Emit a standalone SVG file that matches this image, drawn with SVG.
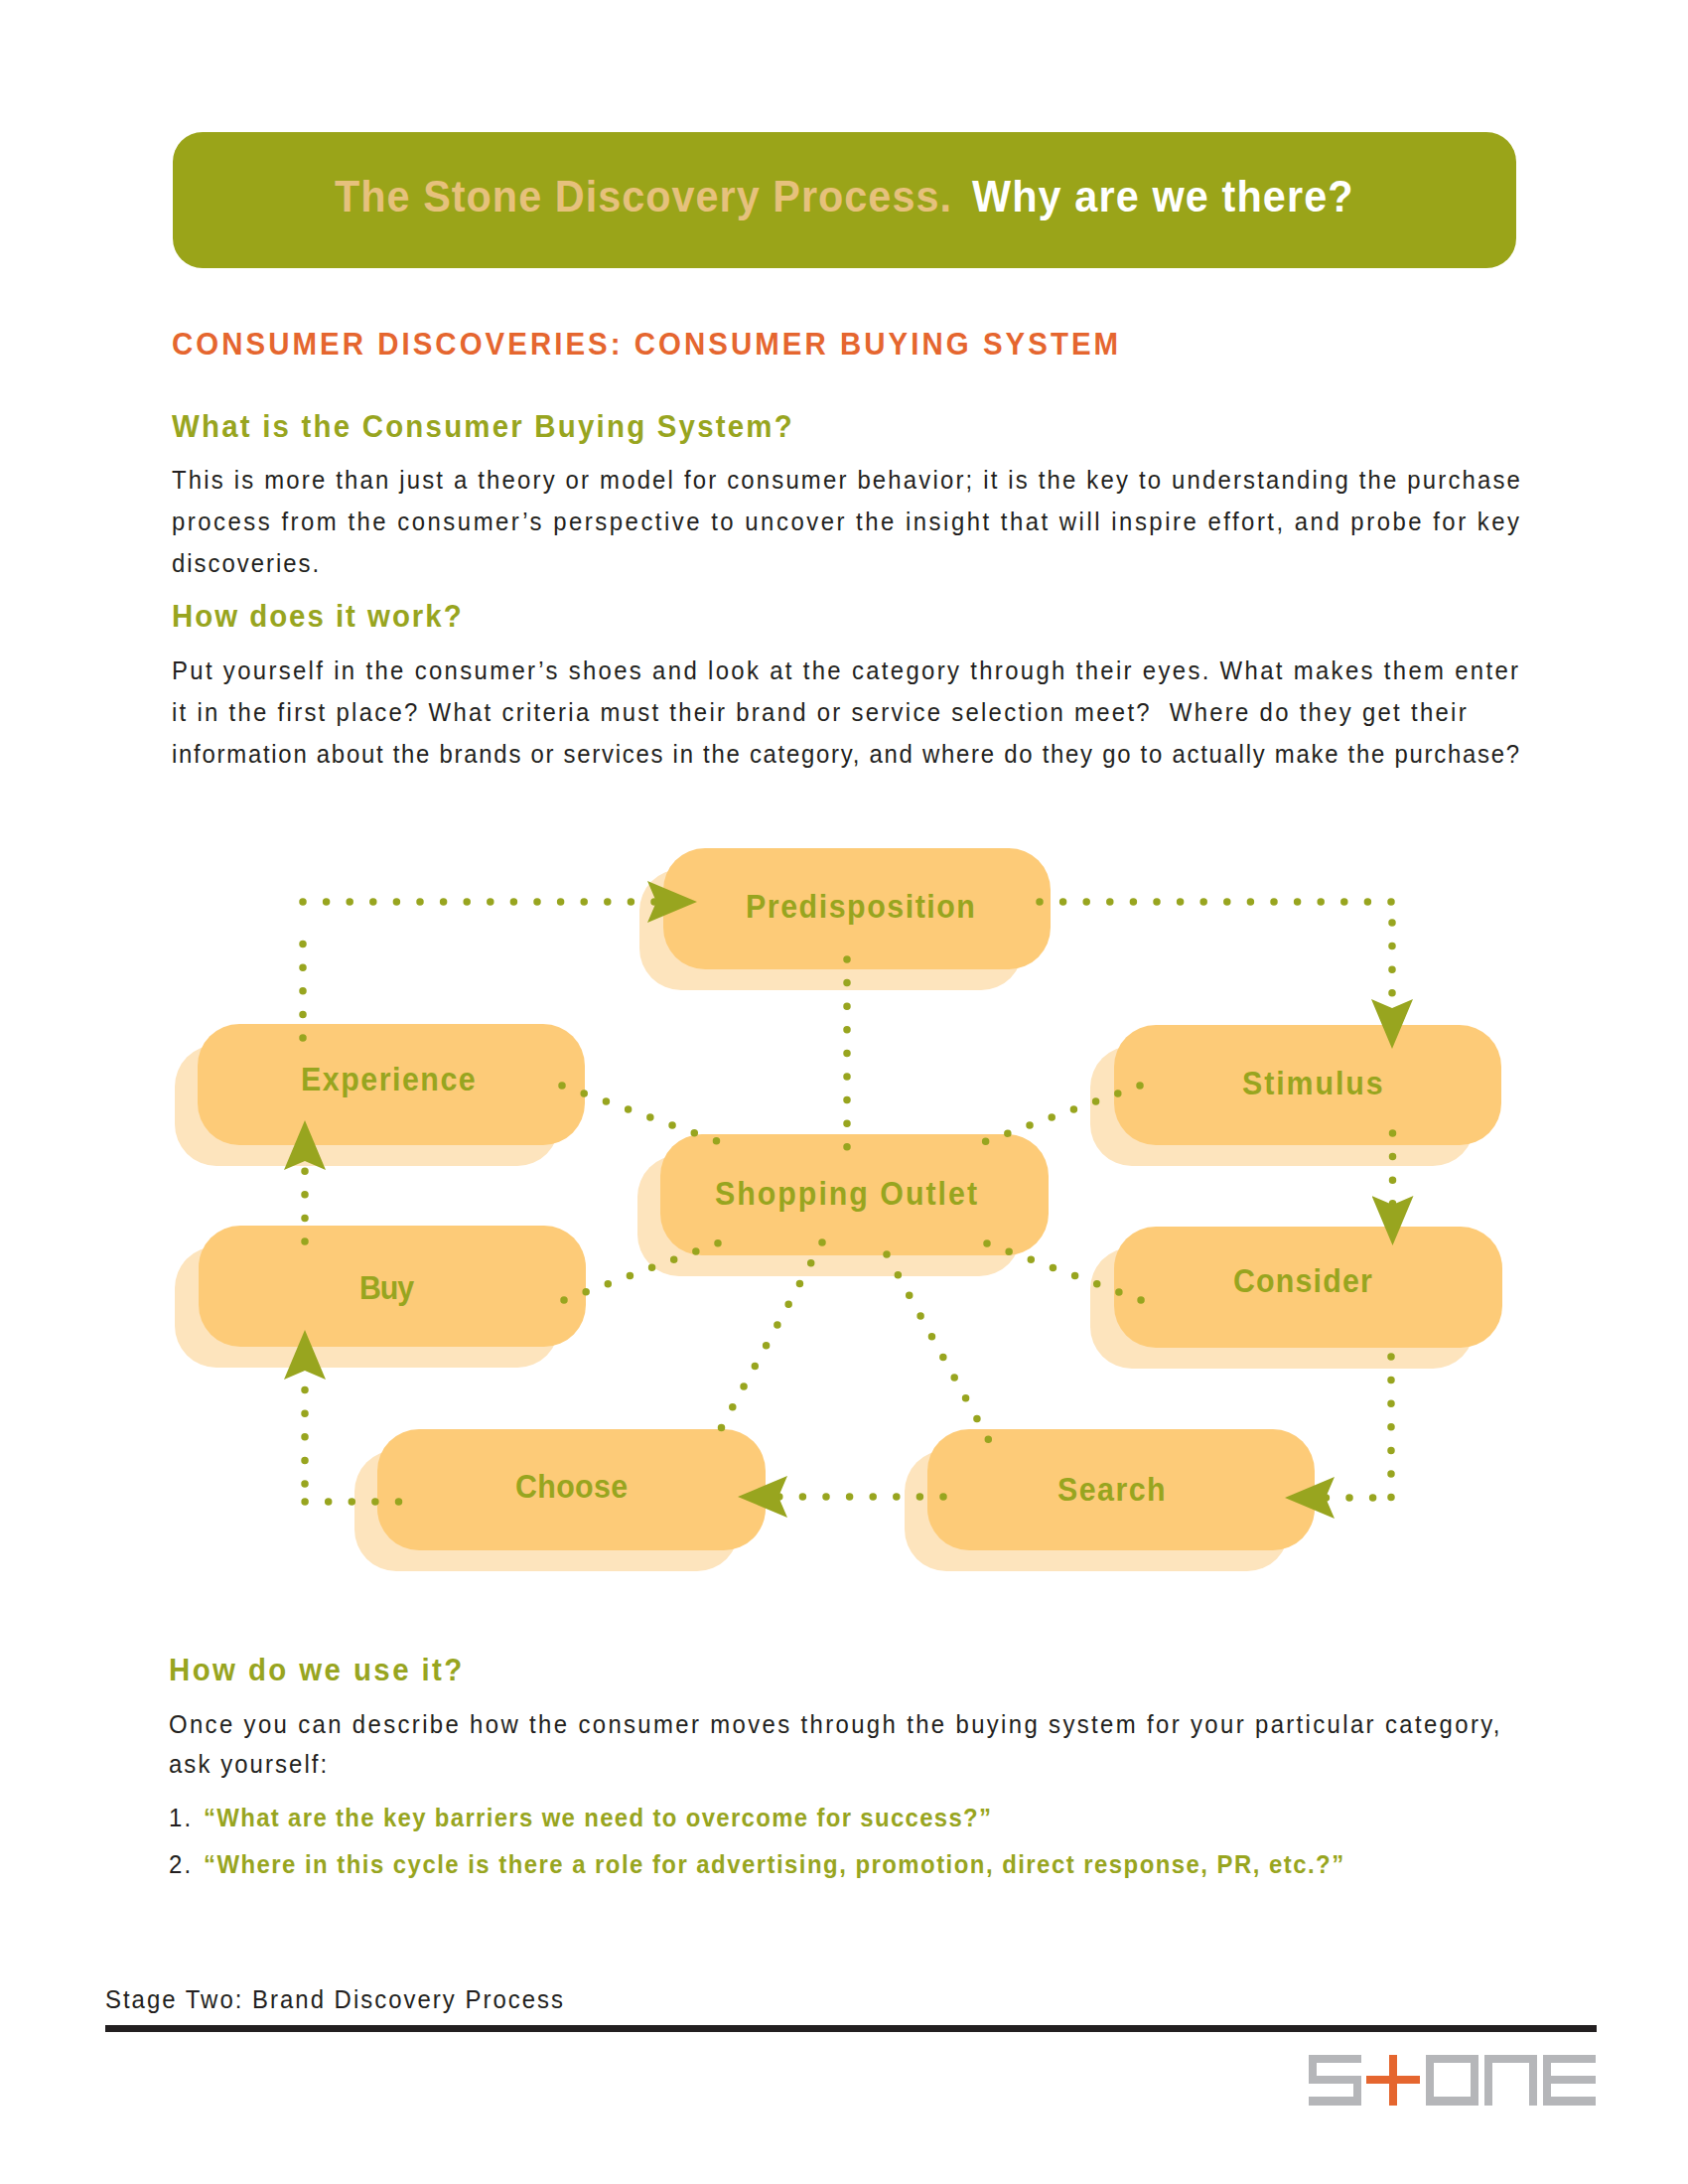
<svg xmlns="http://www.w3.org/2000/svg" width="1700" height="2199" viewBox="0 0 1700 2199">
<style>
text{font-family:"Liberation Sans",Arial,sans-serif;white-space:pre}
.b{font-size:26px;fill:#231f20}
.h{font-size:32px;font-weight:700;fill:#98a51f}
.q{font-size:26px;font-weight:700;fill:#98a51f}
.n{font-size:33px;font-weight:700;fill:#98a51f}
.t{font-size:45px;font-weight:700}
.f{fill:#fdcb78}
.s{fill:#fde4bd}
.c{fill:none;stroke:#98a51f;stroke-width:7.5;stroke-linecap:round;stroke-dasharray:0 23.6}
.a{marker-end:url(#arrow)}
.g{fill:#b5b6b9}
</style>
<defs>
<marker id="arrow" markerUnits="userSpaceOnUse" viewBox="0 0 50 42" markerWidth="50" markerHeight="42" refX="9" refY="21" orient="auto"><path d="M0 0L50 21L0 42L9 21Z" fill="#98a51f"/></marker>
</defs>
<rect width="1700" height="2199" fill="#fff"/>
<g id="header">
<rect x="174" y="133" width="1353" height="137" rx="30" fill="#9aa419"/>
<text class="t" transform="matrix(.92 0 0 1 337 213)" fill="#e6c17c" textLength="675" lengthAdjust="spacing">The Stone Discovery Process.</text>
<text class="t" transform="matrix(.92 0 0 1 979 213)" fill="#fff" textLength="417" lengthAdjust="spacing">Why are we there?</text>
</g>
<g id="copy-top">
<text transform="matrix(.92 0 0 1 173 357)" font-size="32" font-weight="700" fill="#e5662f" textLength="1036" lengthAdjust="spacing">CONSUMER DISCOVERIES: CONSUMER BUYING SYSTEM</text>
<text class="h" transform="matrix(.92 0 0 1 173 440)" textLength="679" lengthAdjust="spacing">What is the Consumer Buying System?</text>
<text class="b" transform="matrix(.92 0 0 1 173 492)" textLength="1476" lengthAdjust="spacing">This is more than just a theory or model for consumer behavior; it is the key to understanding the purchase</text>
<text class="b" transform="matrix(.92 0 0 1 173 534)" textLength="1475" lengthAdjust="spacing">process from the consumer’s perspective to uncover the insight that will inspire effort, and probe for key</text>
<text class="b" transform="matrix(.92 0 0 1 173 576)" textLength="161" lengthAdjust="spacing">discoveries.</text>
<text class="h" transform="matrix(.92 0 0 1 173 631)" textLength="317" lengthAdjust="spacing">How does it work?</text>
<text class="b" transform="matrix(.92 0 0 1 173 684)" textLength="1474" lengthAdjust="spacing">Put yourself in the consumer’s shoes and look at the category through their eyes. What makes them enter</text>
<text class="b" transform="matrix(.92 0 0 1 173 726)" textLength="1417" lengthAdjust="spacing">it in the first place? What criteria must their brand or service selection meet?  Where do they get their</text>
<text class="b" transform="matrix(.92 0 0 1 173 768)" textLength="1475" lengthAdjust="spacing">information about the brands or services in the category, and where do they go to actually make the purchase?</text>
</g>
<g id="node-predisposition"><rect class="s" x="644" y="875" width="386" height="122" rx="42"/><rect class="f" x="668" y="854" width="390" height="122" rx="42"/><text class="n" transform="matrix(.92 0 0 1 751 924)" textLength="251" lengthAdjust="spacing">Predisposition</text></g>
<g id="node-experience"><rect class="s" x="176" y="1052" width="387" height="122" rx="42"/><rect class="f" x="199" y="1031" width="390" height="122" rx="42"/><text class="n" transform="matrix(.92 0 0 1 303 1098)" textLength="191" lengthAdjust="spacing">Experience</text></g>
<g id="node-stimulus"><rect class="s" x="1098" y="1053" width="387" height="121" rx="42"/><rect class="f" x="1122" y="1032" width="390" height="121" rx="42"/><text class="n" transform="matrix(.92 0 0 1 1251 1102)" textLength="154" lengthAdjust="spacing">Stimulus</text></g>
<g id="node-shopping-outlet"><rect class="s" x="642" y="1163" width="386" height="122" rx="42"/><rect class="f" x="665" y="1142" width="391" height="122" rx="42"/><text class="n" transform="matrix(.92 0 0 1 720 1213)" textLength="287" lengthAdjust="spacing">Shopping Outlet</text></g>
<g id="node-buy"><rect class="s" x="176" y="1255" width="387" height="122" rx="42"/><rect class="f" x="200" y="1234" width="390" height="122" rx="42"/><text class="n" transform="matrix(.92 0 0 1 362 1308)" textLength="60" lengthAdjust="spacing">Buy</text></g>
<g id="node-consider"><rect class="s" x="1098" y="1256" width="387" height="122" rx="42"/><rect class="f" x="1122" y="1235" width="391" height="122" rx="42"/><text class="n" transform="matrix(.92 0 0 1 1242 1301)" textLength="152" lengthAdjust="spacing">Consider</text></g>
<g id="node-choose"><rect class="s" x="357" y="1460" width="387" height="122" rx="42"/><rect class="f" x="380" y="1439" width="391" height="122" rx="42"/><text class="n" transform="matrix(.92 0 0 1 519 1508)" textLength="123" lengthAdjust="spacing">Choose</text></g>
<g id="node-search"><rect class="s" x="911" y="1460" width="387" height="122" rx="42"/><rect class="f" x="934" y="1439" width="390" height="122" rx="42"/><text class="n" transform="matrix(.92 0 0 1 1065 1511)" textLength="118" lengthAdjust="spacing">Search</text></g>
<g id="connectors">
<path class="c a" d="M305 1045V927M305 908H661"/>
<path class="c a" d="M1047 908H1402.5M1402 929V1015"/>
<path class="c a" d="M1402.5 1141V1213"/>
<path class="c a" d="M1401 1366V1508.5M1382.6 1508H1335"/>
<path class="c a" d="M950 1507H784"/>
<path class="c a" d="M401.5 1512H306.5M307 1494V1380"/>
<path class="c a" d="M307 1250V1169"/>
<path class="c" d="M853 966V1155.5"/>
<path class="c" d="M566 1093L722.5 1149.2"/>
<path class="c" d="M1148 1093L992.5 1149.2"/>
<path class="c" d="M568 1309L723 1251.8"/>
<path class="c" d="M994 1252L1149.5 1309.2"/>
<path class="c" d="M828 1251L726 1438.5"/>
<path class="c" d="M893 1263L995.5 1449.5"/>
</g>
<g id="copy-bottom">
<text class="h" transform="matrix(.92 0 0 1 170 1692)" textLength="321" lengthAdjust="spacing">How do we use it?</text>
<text class="b" transform="matrix(.92 0 0 1 170 1745)" textLength="1457" lengthAdjust="spacing">Once you can describe how the consumer moves through the buying system for your particular category,</text>
<text class="b" transform="matrix(.92 0 0 1 170 1785)" textLength="173" lengthAdjust="spacing">ask yourself:</text>
<text class="b" transform="matrix(.92 0 0 1 170 1839)" textLength="24" lengthAdjust="spacing">1.</text>
<text class="q" transform="matrix(.92 0 0 1 205 1839)" textLength="862" lengthAdjust="spacing">“What are the key barriers we need to overcome for success?”</text>
<text class="b" transform="matrix(.92 0 0 1 170 1886)" textLength="24" lengthAdjust="spacing">2.</text>
<text class="q" transform="matrix(.92 0 0 1 205 1886)" textLength="1248" lengthAdjust="spacing">“Where in this cycle is there a role for advertising, promotion, direct response, PR, etc.?”</text>
</g>
<g id="footer">
<text class="b" transform="matrix(.92 0 0 1 106 2022)" textLength="501" lengthAdjust="spacing">Stage Two: Brand Discovery Process</text>
<rect x="106" y="2039" width="1502" height="7" fill="#231f20"/>
</g>
<g id="logo">
<rect class="g" x="1318" y="2069" width="53" height="8"/><rect class="g" x="1318" y="2069" width="8" height="29"/><rect class="g" x="1318" y="2090" width="53" height="8"/><rect class="g" x="1363" y="2090" width="8" height="30"/><rect class="g" x="1318" y="2111" width="53" height="9"/>
<rect x="1399" y="2069" width="8" height="51" fill="#e5662f"/><rect x="1376" y="2090" width="54" height="8" fill="#e5662f"/>
<rect class="g" x="1436" y="2069" width="53" height="8"/><rect class="g" x="1436" y="2111" width="53" height="9"/><rect class="g" x="1436" y="2069" width="8" height="51"/><rect class="g" x="1481" y="2069" width="8" height="51"/>
<rect class="g" x="1495" y="2069" width="53" height="8"/><rect class="g" x="1495" y="2069" width="8" height="51"/><rect class="g" x="1540" y="2069" width="8" height="51"/>
<rect class="g" x="1554" y="2069" width="53" height="8"/><rect class="g" x="1554" y="2090" width="53" height="8"/><rect class="g" x="1554" y="2111" width="53" height="9"/><rect class="g" x="1554" y="2069" width="8" height="51"/>
</g>
</svg>
